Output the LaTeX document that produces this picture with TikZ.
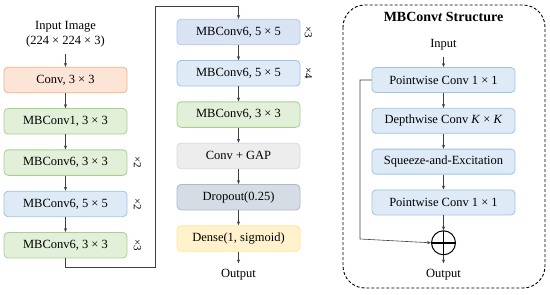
\documentclass[tikz,border=0pt]{standalone}
\usepackage{fontspec}
\setmainfont{Liberation Serif}
\usetikzlibrary{positioning,arrows.meta}
\definecolor{convfill}{HTML}{FCE4D6}
\definecolor{convline}{HTML}{F4B183}
\definecolor{greenfill}{HTML}{E2F0D9}
\definecolor{greenline}{HTML}{A9D18E}
\definecolor{bluefill}{HTML}{DEEBF7}
\definecolor{blueline}{HTML}{9DC3E6}
\definecolor{steelfill}{HTML}{DAE3F3}
\definecolor{steelline}{HTML}{B4C7E7}
\definecolor{grayfill}{HTML}{EDEDED}
\definecolor{grayline}{HTML}{D9D9D9}
\definecolor{dropfill}{HTML}{D6DCE5}
\definecolor{dropline}{HTML}{ADB9CA}
\definecolor{densefill}{HTML}{FFF2CC}
\definecolor{denseline}{HTML}{FFE699}
\definecolor{wire}{HTML}{404040}

\begin{document}
\begin{tikzpicture}[
    block/.style={draw, rounded corners=4pt, line width=0.8pt, minimum width=123pt, minimum height=25.5pt, align=center, font=\fontsize{12.5}{15}\selectfont},
    convblock/.style={block, fill=convfill, draw=convline},
    greenblock/.style={block, fill=greenfill, draw=greenline},
    blueblock/.style={block, fill=bluefill, draw=blueline},
    steelblock/.style={block, fill=steelfill, draw=steelline},
    grayblock/.style={block, fill=grayfill, draw=grayline},
    dropblock/.style={block, fill=dropfill, draw=dropline},
    denseblock/.style={block, fill=densefill, draw=denseline},
    pwblock/.style={blueblock, minimum width=143pt, minimum height=25pt},
    labeltext/.style={align=center, inner sep=6pt, font=\fontsize{12.5}{15}\selectfont},
    rep/.style={rotate=-90, font=\fontsize{11}{13}\selectfont},
    arr/.style={->, line width=0.6pt, draw=wire},
    >={Stealth[length=4pt,width=3.2pt]},
    node distance=15pt
  ]
  \useasboundingbox (0,0) rectangle (550pt,-295pt);

  % left column
  \node[labeltext] (in) at (65.5pt,-34.5pt) {Input Image\\(224 × 224 × 3)};
  \node[convblock] (c1) at (65.5pt,-80pt) {Conv, 3 × 3};
  \node[greenblock, below=of c1] (l1) {MBConv1, 3 × 3};
  \node[greenblock, below=of l1] (l2) {MBConv6, 3 × 3};
  \node[blueblock, below=of l2] (l3) {MBConv6, 5 × 5};
  \node[greenblock, below=of l3] (l4) {MBConv6, 3 × 3};
  \node[rep] at ([xshift=10pt]l2.east) {×2};
  \node[rep] at ([xshift=10pt]l3.east) {×2};
  \node[rep] at ([xshift=10pt]l4.east) {×3};

  % middle column
  \node[steelblock] (m1) at (238.5pt,-32pt) {MBConv6, 5 × 5};
  \node[blueblock, below=of m1] (m2) {MBConv6, 5 × 5};
  \node[greenblock, below=of m2] (m3) {MBConv6, 3 × 3};
  \node[grayblock, below=of m3] (m4) {Conv + GAP};
  \node[dropblock, below=of m4] (m5) {Dropout(0.25)};
  \node[denseblock, below=of m5] (m6) {Dense(1, sigmoid)};
  \node[labeltext] (out) at (238.5pt,-275pt) {Output};
  \node[rep] at ([xshift=8pt]m1.east) {×3};
  \node[rep] at ([xshift=8pt]m2.east) {×4};

  \foreach \a/\b in {in/c1, c1/l1, l1/l2, l2/l3, l3/l4, m1/m2, m2/m3, m3/m4, m4/m5, m5/m6, m6/out}
    \draw[arr] (\a) -- (\b);

  \coordinate (low) at (155pt,-267pt);
  \coordinate (high) at (155pt,-6pt);
  \draw[arr] (l4.south) |- (low) -- (high) -| (m1.north);

  % MBConv structure
  \draw[dash pattern=on 3pt off 2pt, line width=0.9pt, rounded corners=22pt] (343pt,-5pt) rectangle (545pt,-288pt);
  \node[font=\fontsize{14}{16}\selectfont] (title) at (443.5pt,-17pt) {\textbf{MBConv\textit{t} Structure}};
  \node[labeltext] (sin) at (443.5pt,-45pt) {Input};
  \node[pwblock] (p1) at (443.5pt,-80pt) {Pointwise Conv 1 × 1};
  \node[pwblock, below=of p1] (p2) {Depthwise Conv \textit{K} × \textit{K}};
  \node[pwblock, below=of p2] (p3) {Squeeze-and-Excitation};
  \node[pwblock, below=of p3] (p4) {Pointwise Conv 1 × 1};
  \node[circle, draw, line width=1pt, minimum size=24pt, inner sep=0pt, below=of p4,
    path picture={\draw[line width=1.4pt] (path picture bounding box.north) -- (path picture bounding box.south)
      (path picture bounding box.west) -- (path picture bounding box.east);}] (add) {};
  \node[labeltext] (sout) at (443.5pt,-275pt) {Output};

  \foreach \a/\b in {sin/p1, p1/p2, p2/p3, p3/p4, p4/add, add/sout}
    \draw[arr] (\a) -- (\b);

  \coordinate (skip) at (360pt,-239pt);
  \draw[arr] (p1.west) -| (skip) -- (add.west);
\end{tikzpicture}
\end{document}
